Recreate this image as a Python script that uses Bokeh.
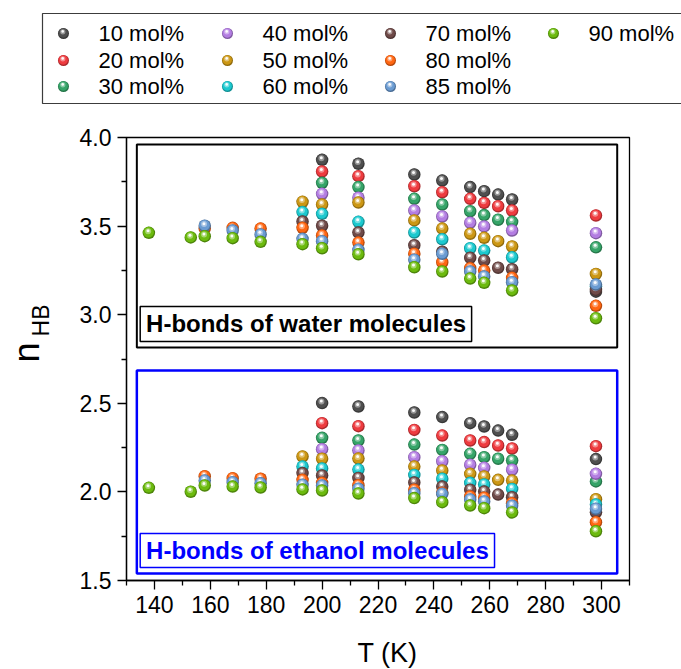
import numpy as np
from bokeh.plotting import figure
from bokeh.models import ColumnDataSource, FixedTicker, Range1d, PrintfTickFormatter
from bokeh.core.properties import value
from bokeh.embed import file_html
from bokeh.resources import INLINE

FONT = "Liberation Sans"

# ---------------------------------------------------------------- data
series_labels = ["10 mol%", "20 mol%", "30 mol%", "40 mol%", "50 mol%",
                 "60 mol%", "70 mol%", "80 mol%", "85 mol%", "90 mol%"]
series_colors = ["#4f4f4f", "#ee3b3f", "#35a468", "#b37de2", "#cc9714",
                 "#1cc9cf", "#6f4a48", "#ff6612", "#6a9bd2", "#6cba0e"]

# temperatures (K) at which each ethanol fraction was simulated
temps_10 = [200, 213, 233, 243, 253, 258, 263, 268, 298]
temps_20 = [200, 213, 233, 243, 253, 258, 263, 268, 298]
temps_30 = [200, 213, 233, 243, 253, 258, 263, 268, 298]
temps_40 = [200, 213, 233, 243, 253, 258, 268, 298]
temps_50 = [193, 200, 213, 233, 243, 253, 258, 263, 268, 298]
temps_60 = [193, 200, 213, 233, 243, 253, 258, 268, 298]
temps_70 = [193, 200, 213, 233, 243, 253, 258, 263, 268, 298]
temps_80 = [158, 168, 178, 193, 200, 213, 233, 243, 253, 258, 268, 298]
temps_85 = [158, 168, 178, 193, 200, 213, 233, 243, 253, 258, 268, 298]
temps_90 = [138, 153, 158, 168, 178, 193, 200, 213, 233, 243, 253, 258, 268, 298]

# average number of H-bonds per water molecule
water_10 = [3.874, 3.852, 3.791, 3.757, 3.720, 3.697, 3.678, 3.650, 3.13]
water_20 = [3.808, 3.782, 3.725, 3.691, 3.654, 3.631, 3.612, 3.588, 3.56]
water_30 = [3.744, 3.720, 3.654, 3.622, 3.584, 3.562, 3.536, 3.524, 3.38]
water_40 = [3.682, 3.660, 3.588, 3.554, 3.519, 3.498, 3.475, 3.46]
water_50 = [3.637, 3.622, 3.633, 3.532, 3.486, 3.457, 3.434, 3.415, 3.385, 3.23]
water_60 = [3.579, 3.569, 3.524, 3.464, 3.426, 3.375, 3.362, 3.324, 3.16]
water_70 = [3.526, 3.502, 3.464, 3.392, 3.355, 3.321, 3.306, 3.265, 3.257, 3.14]
water_80 = [3.487, 3.490, 3.486, 3.490, 3.447, 3.407, 3.344, 3.296, 3.262, 3.249, 3.208, 3.05]
water_85 = [3.502, 3.475, 3.453, 3.428, 3.415, 3.366, 3.310, 3.344, 3.244, 3.216, 3.183, 3.17]
water_90 = [3.462, 3.436, 3.443, 3.432, 3.411, 3.398, 3.375, 3.341, 3.268, 3.244, 3.204,
            3.180, 3.137, 2.98]

# average number of H-bonds per ethanol molecule
ethanol_10 = [2.501, 2.482, 2.448, 2.422, 2.388, 2.369, 2.346, 2.322, 2.185]
ethanol_20 = [2.388, 2.371, 2.350, 2.318, 2.290, 2.281, 2.262, 2.245, 2.258]
ethanol_30 = [2.305, 2.290, 2.267, 2.237, 2.215, 2.196, 2.187, 2.177, 2.059]
ethanol_40 = [2.241, 2.234, 2.196, 2.173, 2.153, 2.136, 2.125, 2.102]
ethanol_50 = [2.200, 2.187, 2.188, 2.143, 2.121, 2.102, 2.087, 2.068, 2.064, 1.959]
ethanol_60 = [2.143, 2.132, 2.126, 2.096, 2.074, 2.051, 2.042, 2.017, 1.929]
ethanol_70 = [2.106, 2.093, 2.079, 2.053, 2.030, 2.012, 2.002, 1.985, 1.970, 1.885]
ethanol_80 = [2.089, 2.077, 2.074, 2.068, 2.051, 2.038, 2.012, 1.995, 1.974, 1.967, 1.936, 1.829]
ethanol_85 = [2.064, 2.055, 2.049, 2.040, 2.036, 2.018, 1.993, 1.989, 1.957, 1.946, 1.922, 1.905]
ethanol_90 = [2.023, 2.001, 2.036, 2.030, 2.025, 2.014, 2.008, 1.991, 1.965, 1.942, 1.923,
              1.908, 1.884, 1.778]

x_ticks = [140, 160, 180, 200, 220, 240, 260, 280, 300]
x_minor = [130, 150, 170, 190, 210, 230, 250, 270, 290, 310]
y_ticks = [1.5, 2.0, 2.5, 3.0, 3.5, 4.0]
y_minor = [1.75, 2.25, 2.75, 3.25, 3.75]

series = list(zip(
    series_labels, series_colors,
    [temps_10, temps_20, temps_30, temps_40, temps_50, temps_60, temps_70, temps_80, temps_85, temps_90],
    [water_10, water_20, water_30, water_40, water_50, water_60, water_70, water_80, water_85, water_90],
    [ethanol_10, ethanol_20, ethanol_30, ethanol_40, ethanol_50, ethanol_60, ethanol_70,
     ethanol_80, ethanol_85, ethanol_90],
))

# ---------------------------------------------------------------- geometry
W, H = 681, 669
BOX_L, BOX_R, BOX_T, BOX_B = 126, 629, 137, 580      # plot box on the canvas (px)
X0, X1 = 130, 310
Y0, Y1 = 1.5, 4.0
KX = (BOX_R - BOX_L) / (X1 - X0)                     # px per K
KY = (BOX_B - BOX_T) / (Y1 - Y0)                     # px per H-bond
x_range = Range1d(X0 - BOX_L / KX, X1 + (W - BOX_R) / KX)
y_range = Range1d(Y0 - (H - BOX_B) / KY, Y1 + BOX_T / KY)


def cx(px):
    """canvas x (px) -> data x"""
    return x_range.start + px / KX


def cy(py):
    """canvas y (px, from top) -> data y"""
    return y_range.end - py / KY


# ---------------------------------------------------------------- helpers
def shade(hex_color, f):
    """f < 1 darkens, f > 1 mixes toward white by (f - 1)."""
    c = np.array([int(hex_color[i:i + 2], 16) for i in (1, 3, 5)], dtype=float)
    if f <= 1:
        c = c * f
    else:
        c = c + (255 - c) * (f - 1)
    c = np.clip(c, 0, 255).astype(int)
    return "#%02x%02x%02x" % tuple(c)


def spheres(fig, xs, ys, color, size):
    """Glossy ball markers (shaded body plus a specular highlight)."""
    xs = np.asarray(xs, dtype=float)
    ys = np.asarray(ys, dtype=float)
    layers = [
        (0.0, 0.0, 1.00, shade(color, 0.72), 1.0),
        (-0.3, 0.6, 0.86, color, 1.0),
        (-0.7, 1.7, 0.48, shade(color, 1.45), 0.9),
        (-0.8, 2.1, 0.24, "#ffffff", 0.95),
    ]
    for dxp, dyp, k, fill, alpha in layers:
        src = ColumnDataSource(dict(x=xs + dxp / KX, y=ys + dyp / KY))
        fig.scatter("x", "y", source=src, marker="circle", size=size * k,
                    fill_color=fill, fill_alpha=alpha, line_color=None)


# ---------------------------------------------------------------- figure
p = figure(frame_width=W, frame_height=H, x_range=x_range, y_range=y_range,
           output_backend="svg", toolbar_location=None, min_border=0)
p.grid.visible = False
p.outline_line_color = None
p.background_fill_color = "white"
p.border_fill_color = "white"

for ax in (p.xaxis[0], p.yaxis[0]):
    ax.axis_line_color = "black"
    ax.axis_line_width = 1.3
    ax.major_tick_line_color = "black"
    ax.major_tick_line_width = 1.3
    ax.major_tick_out = 9
    ax.major_tick_in = 0
    ax.minor_tick_line_color = "black"
    ax.minor_tick_line_width = 1.3
    ax.minor_tick_out = 5
    ax.minor_tick_in = 0
    ax.major_label_text_font = FONT
    ax.major_label_text_font_size = "23px"
    ax.major_label_text_color = "black"
    ax.major_label_standoff = 6
p.xaxis.ticker = FixedTicker(ticks=x_ticks, minor_ticks=x_minor)
p.yaxis.ticker = FixedTicker(ticks=y_ticks, minor_ticks=y_minor)
p.yaxis.formatter = PrintfTickFormatter(format="%.1f")
p.xaxis.fixed_location = Y0
p.yaxis.fixed_location = X0
p.xaxis.bounds = (X0, X1)
p.yaxis.bounds = (Y0, Y1)

# plot box (top and right edges; bottom/left come from the axes)
p.quad(left=[X0], right=[X1], bottom=[Y0], top=[Y1], fill_color=None,
       line_color="black", line_width=1.3)

# panel frames
p.quad(left=[133.7], right=[305.6], top=[3.96], bottom=[2.815], fill_color=None,
       line_color="black", line_width=2)
p.quad(left=[133.7], right=[305.6], top=[2.685], bottom=[1.539], fill_color=None,
       line_color="#0000ff", line_width=2.5)

# panel captions
p.quad(left=[134.9], right=[253.5], top=[3.046], bottom=[2.849], fill_color="white",
       line_color="black", line_width=1.5)
p.text(x=[137.0], y=[2.948], text=["H-bonds of water molecules"], text_font=value(FONT),
       text_font_style="bold", text_font_size="24px", text_baseline="middle",
       text_align="left", text_color="black")
p.quad(left=[134.9], right=[261.7], top=[1.765], bottom=[1.573], fill_color="white",
       line_color="#0000ff", line_width=1.5)
p.text(x=[137.0], y=[1.669], text=["H-bonds of ethanol molecules"], text_font=value(FONT),
       text_font_style="bold", text_font_size="24px", text_baseline="middle",
       text_align="left", text_color="#0000ff")

# data
for lab, col, temps, water, eth in series:
    spheres(p, list(temps) + list(temps), list(water) + list(eth), col, 12.5)

# legend: three rows by four columns above the plot box
p.quad(left=[cx(42)], right=[cx(700)], top=[cy(13)], bottom=[cy(103)], fill_color="white",
       line_color="#3c3c3c", line_width=1.2)
leg_cols = [63, 227, 390, 553]
leg_rows = [33, 60, 86]
for i, (lab, col, *_rest) in enumerate(series):
    mx, my = leg_cols[i // 3], leg_rows[i % 3]
    spheres(p, [cx(mx)], [cy(my)], col, 11)
    p.text(x=[cx(mx + 35)], y=[cy(my)], text=[lab], text_font=value(FONT),
           text_font_size="22px", text_baseline="middle", text_align="left",
           text_color="black")

# axis titles
p.text(x=[cx(387)], y=[cy(652)], text=["T (K)"], text_font=value(FONT),
       text_font_size="27px", text_align="center", text_baseline="middle",
       text_color="black")
p.text(x=[cx(26)], y=[cy(352)], text=["n"], angle=np.pi / 2, text_font=value(FONT),
       text_font_size="36px", text_align="center", text_baseline="middle",
       text_color="black")
p.text(x=[cx(40)], y=[cy(320)], text=["HB"], angle=np.pi / 2, text_font=value(FONT),
       text_font_size="23px", text_align="center", text_baseline="middle",
       text_color="black")

open("out.html", "w").write(file_html(p, INLINE))
